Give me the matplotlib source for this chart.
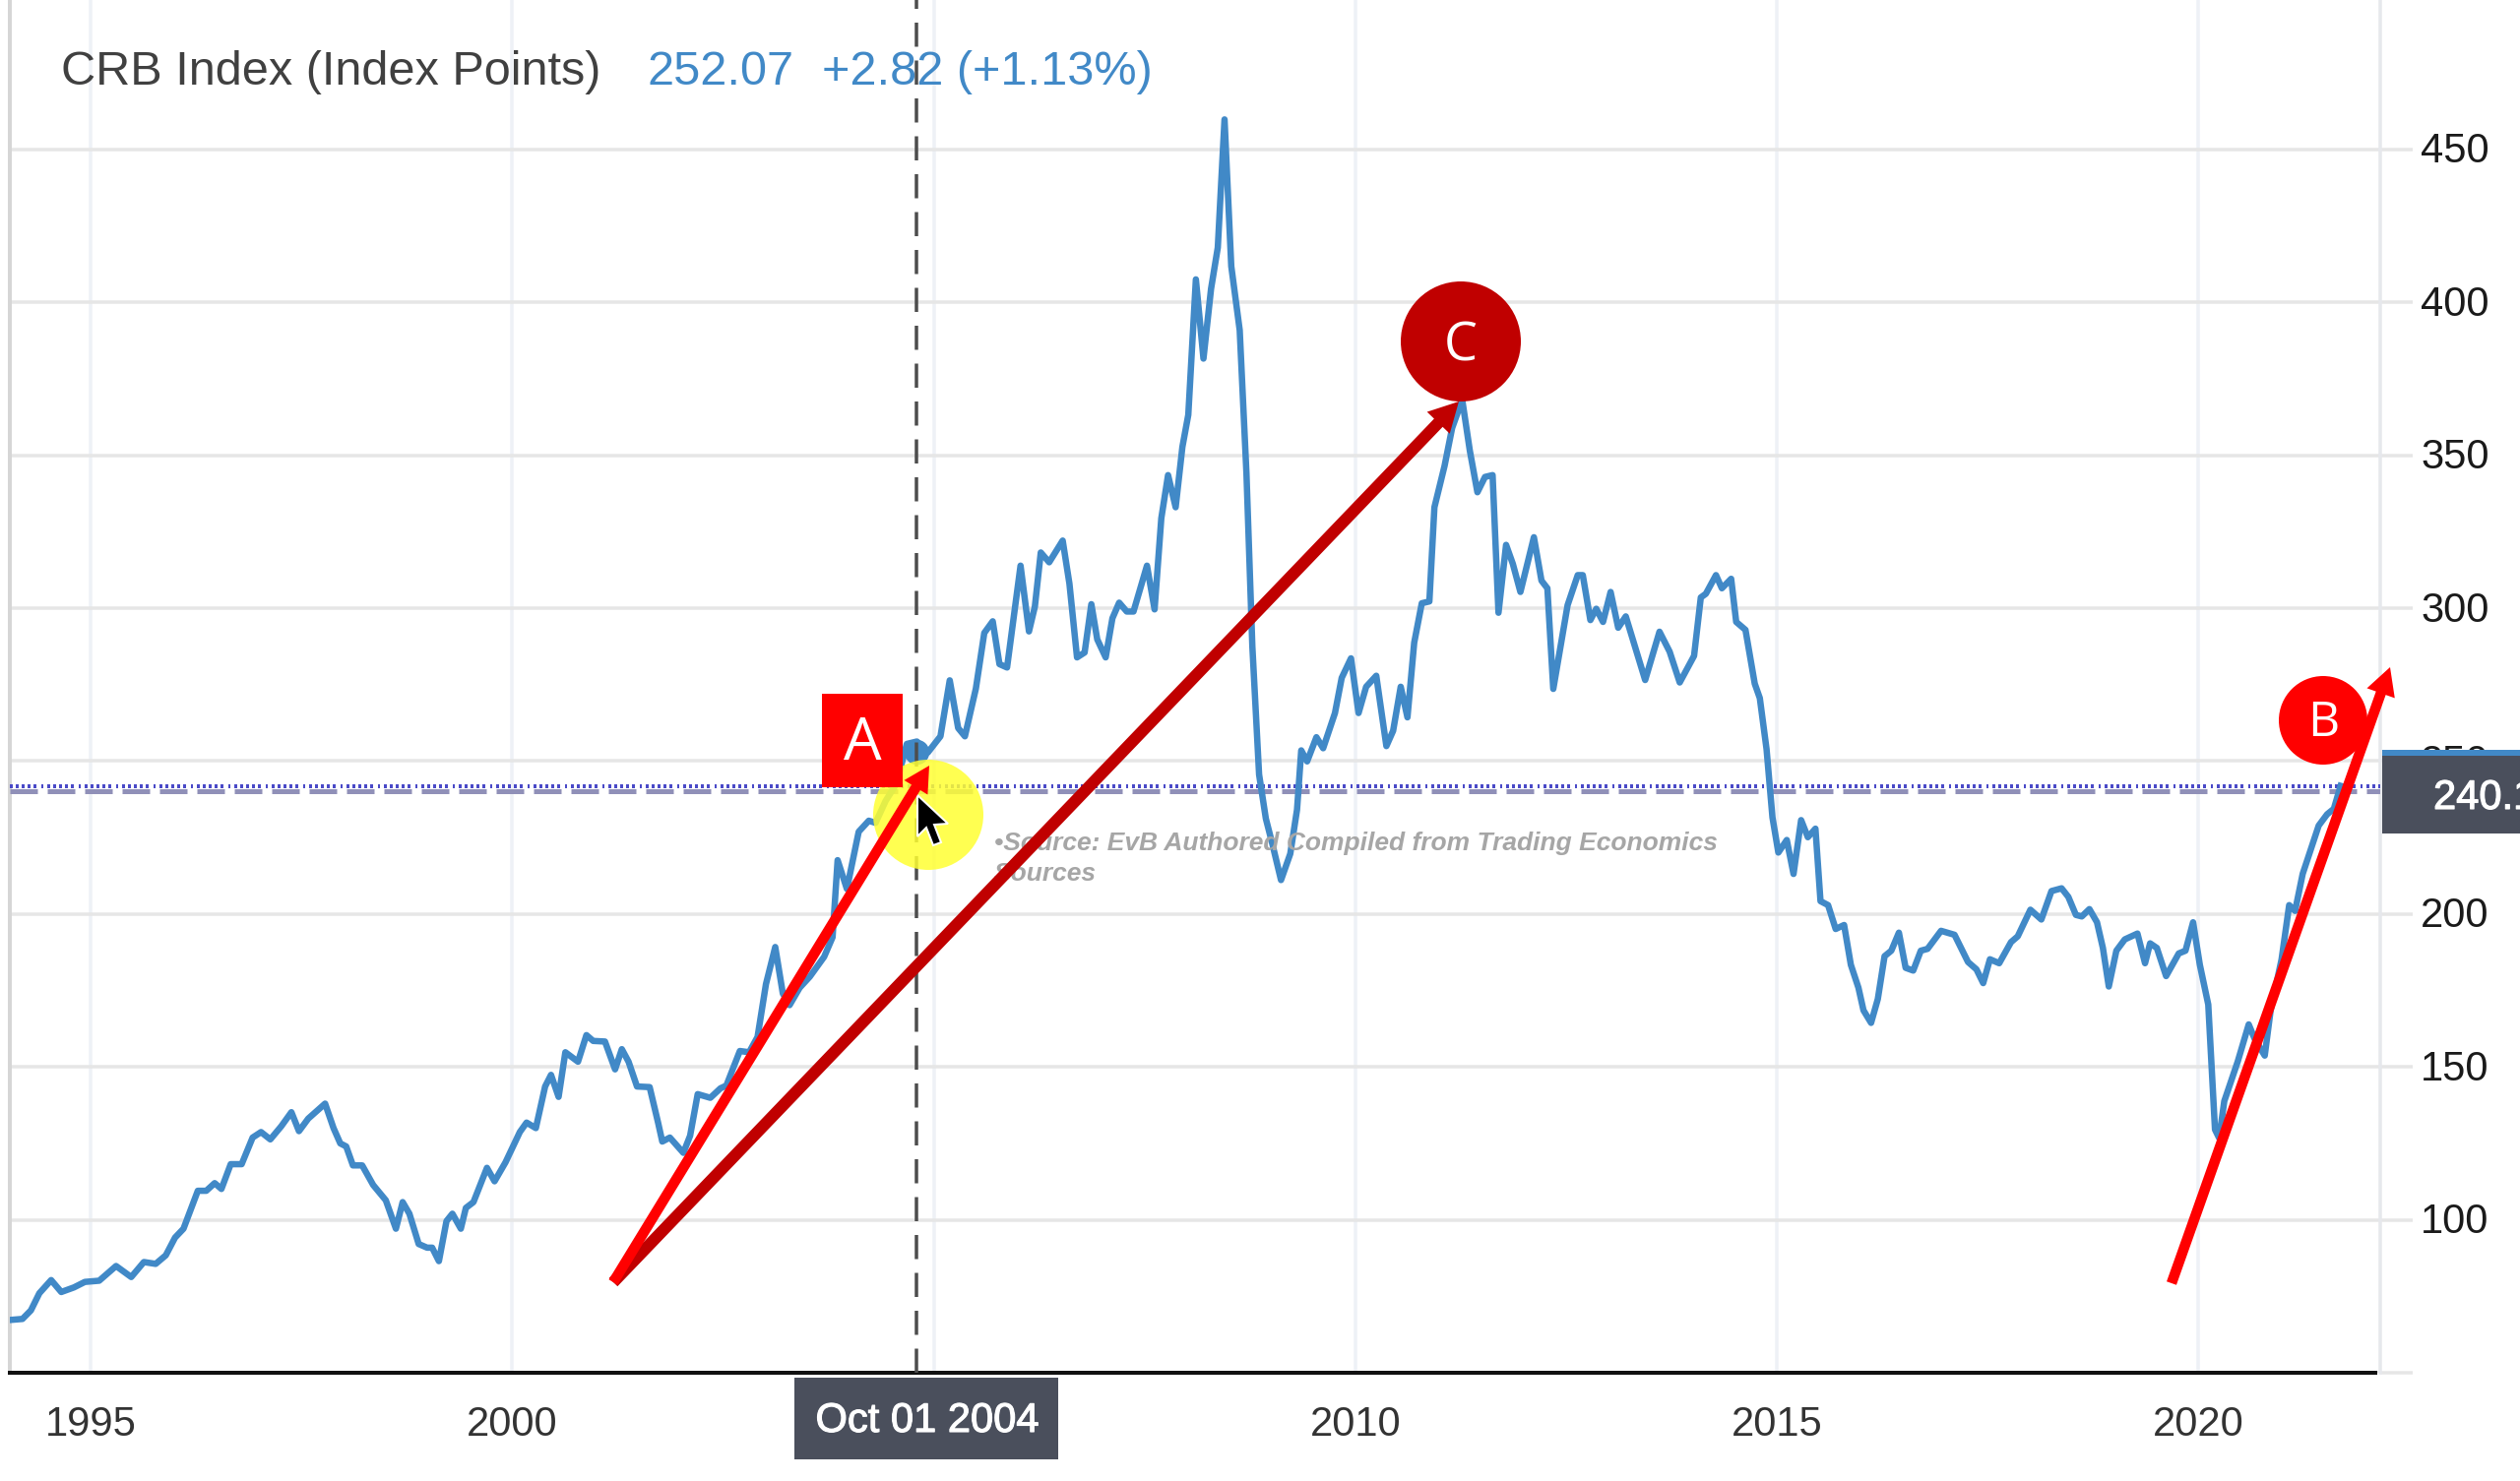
import matplotlib
matplotlib.use('Agg')
import matplotlib.pyplot as plt
import matplotlib.patheffects as pe
from matplotlib.patches import Circle, Rectangle, Polygon
from matplotlib.transforms import ScaledTranslation

# values (decimal year, index points)
years = [1994.06,1994.19,1994.29,1994.39,1994.53,1994.65,1994.80,1994.93,1995.10,1995.30,1995.48,1995.63,1995.77,1995.89,
1996.00,1996.10,1996.27,1996.37,1996.47,1996.55,1996.66,1996.79,1996.92,1997.02,1997.13,1997.26,1997.38,1997.47,1997.58,1997.78,1997.88,1997.96,
1998.03,1998.11,1998.22,1998.35,1998.50,1998.62,1998.70,1998.78,1998.89,1998.99,1999.05,1999.13,1999.22,1999.29,1999.39,1999.45,1999.54,1999.70,1999.79,1999.92,
2000.09,2000.17,2000.28,2000.39,2000.46,2000.55,2000.63,2000.78,2000.88,2000.96,2001.10,2001.22,2001.30,2001.38,2001.48,2001.63,2001.73,2001.78,2001.87,
2002.03,2002.11,2002.20,2002.35,2002.47,2002.54,2002.70,2002.81,2002.91,2003.01,2003.12,2003.21,2003.29,2003.41,2003.53,2003.70,2003.80,2003.86,2003.97,
2004.11,2004.23,2004.31,2004.43,2004.56,2004.68,2004.80,2004.93,2005.08,2005.19,2005.29,2005.37,2005.50,2005.60,2005.70,2005.78,2005.87,2005.95,
2006.03,2006.13,2006.20,2006.27,2006.37,2006.53,2006.61,2006.70,2006.79,2006.87,2006.94,2007.04,2007.12,2007.20,2007.29,2007.37,2007.53,2007.62,2007.70,2007.78,2007.87,2007.95,
2008.02,2008.11,2008.20,2008.29,2008.37,2008.45,2008.53,2008.63,2008.71,2008.78,2008.86,2008.94,2009.02,2009.12,2009.23,2009.31,2009.36,2009.43,2009.54,2009.62,2009.76,2009.84,2009.95,
2010.04,2010.13,2010.25,2010.37,2010.45,2010.54,2010.62,2010.70,2010.79,2010.88,2010.94,2011.06,2011.15,2011.27,2011.36,2011.45,2011.54,2011.63,2011.70,2011.79,2011.87,2011.96,
2012.12,2012.21,2012.28,2012.35,2012.52,2012.64,2012.70,2012.79,2012.86,2012.94,2013.03,2013.12,2013.21,2013.33,2013.44,2013.61,2013.73,2013.85,
2014.02,2014.10,2014.16,2014.28,2014.35,2014.46,2014.52,2014.63,2014.74,2014.80,2014.88,2014.95,2015.02,2015.12,2015.20,2015.29,2015.37,2015.46,2015.52,2015.61,2015.70,2015.80,2015.88,2015.97,
2016.03,2016.12,2016.20,2016.28,2016.36,2016.45,2016.53,2016.62,2016.71,2016.79,2016.95,2017.11,2017.27,2017.37,2017.45,2017.53,2017.64,2017.78,2017.86,
2018.01,2018.14,2018.26,2018.38,2018.46,2018.55,2018.62,2018.71,2018.80,2018.87,2018.94,2019.03,2019.13,2019.28,2019.37,2019.43,2019.51,2019.62,2019.77,2019.85,2019.94,
2020.02,2020.12,2020.20,2020.25,2020.31,2020.47,2020.60,2020.67,2020.79,2020.86,2020.99,2021.08,2021.15,2021.24,2021.34,2021.43,2021.53,2021.61,2021.69]
crb = [67.3,67.6,70.4,76,80.3,76.4,77.9,79.7,80.1,84.9,81.3,86.2,85.6,88.4,
94.2,97.1,109.5,109.5,112,110.1,118.2,118.2,126.9,128.7,126.3,130.6,135.2,129,133.1,138,130,125,
124,117.8,117.8,111.4,106.4,97.1,105.8,102,92.1,90.9,90.9,86.5,99.6,102,97.1,103.9,105.8,117,112.6,118.8,
128.7,131.8,130,143.6,147.4,140.2,154.8,151.7,160.4,158.5,158.3,149.2,155.8,151.7,143.6,143.4,131.8,125.6,126.9,
121.9,127.5,141.1,139.9,143,143.9,155.2,154.8,159.8,177.1,189.2,174,170.2,175.9,179.5,186,192.4,217.6,208.2,
226.9,230.5,229.8,237,242.7,255.6,256.4,252.8,258.1,276.4,260.8,258.1,273.7,291.9,295.7,281.7,280.6,297.3,
313.9,292.4,300.5,318.2,315,322.1,308,283.9,285.5,301.3,289.8,283.9,296.7,301.8,298.9,298.9,313.9,299.6,329.4,343.5,333,352.7,
363.2,407.5,381.6,404.4,417.9,459.8,411.8,390.9,344.1,287.5,245.6,231.2,222.6,211.1,219.7,234.1,253.5,249.9,257.8,254.2,265.7,277.2,283.6,
265.7,274.3,277.9,254.9,259.9,274.3,264.3,288.7,301.6,302.2,333,346.5,358.9,368.1,351.5,337.9,342.9,343.5,298.5,320.7,314.5,305.3,
323.2,309,306.5,273.6,301,310.8,310.8,296.1,299.8,295.5,305.3,293.6,297.3,286.5,276.5,292.3,285.8,275.7,
284.4,303.5,304.7,310.8,306.5,309.6,295.5,292.9,275.3,270.6,253.9,231.6,220.1,224.2,213.1,230.7,225.1,227.9,204.2,202.9,195.1,196.4,183.4,175.9,
168.5,164.4,172.2,186.2,188,193.9,182.4,181.5,188,188.6,194.5,193.2,184.3,181.9,177.4,185.2,183.9,190.8,192.7,
201.4,198.2,207.5,208.4,205.6,199.7,199.2,201.6,197.3,188.9,176.3,188,191.7,193.6,183.9,190.4,188.9,179.7,187.1,188,197.3,
183.4,170.4,129.5,126.7,138.8,151.8,163.9,159.2,153.7,168.5,185.2,202.9,201,213.1,221.4,228.9,232.6,234.4,241.9]

x_ticks = [1995, 2000, 2005, 2010, 2015, 2020]
x_labels = ['1995', '2000', '', '2010', '2015', '2020']  # 2005 sits under the date tag
y_ticks = [50, 100, 150, 200, 250, 300, 350, 400, 450]
y_labels = ['', '100', '150', '200', '250', '300', '350', '400', '450']
hover_year = 2004.8
hover_value = 253
level = 240.8

W, H = 2560, 1505
px = 72 / 100  # one image pixel in points
BLUE = '#4189c7'
SLATE = '#4a4f5c'

plt.rcParams['font.family'] = ['Liberation Sans', 'DejaVu Sans']
fig = plt.figure(figsize=(W / 100, H / 100), dpi=100, facecolor='white')

ax = fig.add_axes([10 / W, (H - 1395) / H, (2418 - 10) / W, 1395 / H])
ax.set_xlim(1994.04, 2022.16)
ax.set_ylim(50, 498.85)
ax.plot(years, crb, color=BLUE, lw=6.5 * px, solid_joinstyle='round', zorder=3)
ax.plot([hover_year], [hover_value], 'o', ms=24 * px, color=BLUE, zorder=3)

# level line: grey band with a row of dots on top, hover line
ax.axhline(level - 0.6, color='#9090b8', lw=5 * px, ls=(0, (28 / 5, 10 / 5)), zorder=2.6)
group = [3, 3, 3, 3, 3, 3, 3, 3, 3, 5, 2, 4]
ax.axhline(level + 0.9, color='#4a4ac8', lw=4 * px, ls=(0, [g / 4 for g in group]), zorder=2.7)
ax.axvline(hover_year, color='#4d4d4d', lw=3.5 * px, ls=(0, (7, 4)), zorder=4)

ax.yaxis.tick_right()
ax.set_xticks(x_ticks)
ax.set_xticklabels(x_labels)
ax.set_yticks(y_ticks)
ax.set_yticklabels(y_labels)
ax.xaxis.grid(True, color='#eef1f6', lw=3.5 * px)
ax.yaxis.grid(True, color='#e6e6e6', lw=3.5 * px)
ax.set_axisbelow(True)
ax.tick_params(axis='x', length=0, pad=33 * px, labelsize=30, labelcolor='#333333')
ax.tick_params(axis='y', length=33 * px, width=3.5 * px, color='#e6e6e6', pad=8 * px, labelsize=30, labelcolor='#1a1a1a')
for tick in ax.yaxis.get_major_ticks():
    tick.label2.set_transform(tick.label2.get_transform() + ScaledTranslation(0, 2 / 100, fig.dpi_scale_trans))
ax.spines['top'].set_visible(False)
ax.spines['left'].set(color='#d6d6d6', lw=4 * px)
ax.spines['right'].set(color='#e6e8ec', lw=3.5 * px)
ax.spines['bottom'].set(color='#111111', lw=4 * px)
ax.spines['bottom'].set_bounds(1994.04, 2022.10)

# overlay in image pixels for the annotations pasted on the screenshot
ov = fig.add_axes([0, 0, 1, 1], facecolor='none')
ov.set_xlim(0, W)
ov.set_ylim(H, 0)
ov.axis('off')

ov.text(62, 73, 'CRB Index (Index Points)', fontsize=35, color='#404040', va='center')
ov.text(658, 73, '252.07', fontsize=35, color=BLUE, va='center')
ov.text(835, 73, '+2.82 (+1.13%)', fontsize=35, color=BLUE, va='center')

ov.add_patch(Circle((943, 828), 56, color='#ffff33', alpha=0.85, lw=0, zorder=2))
ov.add_patch(Polygon([(932, 808), (932, 850), (941, 841), (948, 859), (956, 856), (949, 838), (963, 837)],
                     closed=True, fc='black', ec='white', lw=2 * px, zorder=3))

ov.text(1010, 857, '•Source: EvB Authored Compiled from Trading Economics', fontsize=19,
        color='#a6a6a6', style='italic', weight='bold', va='center', zorder=2)
ov.text(1010, 888, 'Sources', fontsize=19, color='#a6a6a6', style='italic', weight='bold', va='center', zorder=2)

def arrow(tail, tip, color, shaft, head_l, head_w):
    style = 'simple,head_length=%g,head_width=%g,tail_width=%g' % (head_l, head_w, shaft)
    ov.annotate('', xy=tip, xytext=tail, zorder=5,
                arrowprops=dict(arrowstyle=style, fc=color, ec='none', lw=0, shrinkA=0, shrinkB=0, mutation_scale=px))

arrow((623, 1303), (1482, 408), '#c00000', 12, 30, 32)
arrow((623, 1303), (944, 778), '#ff0000', 10.5, 26, 28)
arrow((2206, 1304), (2428, 678), '#ff0000', 10.5, 28, 30)

ov.add_patch(Rectangle((835, 705), 82, 95, color='#ff0000', lw=0, zorder=6))
ov.text(876, 756, 'A', fontsize=44, color='white', family='Open Sans', ha='center', va='center', zorder=7)
ov.add_patch(Circle((1484, 347), 61, color='#c00000', lw=0, zorder=6))
ov.text(1484, 352, 'C', fontsize=39, color='white', family='Open Sans', ha='center', va='center', zorder=7)
ov.add_patch(Circle((2360, 732), 45, color='#ff0000', lw=0, zorder=6))
ov.text(2360, 735, 'B', fontsize=36, color='white', family='Open Sans', ha='center', va='center', zorder=7)

# price tag and date tag
bold = [pe.withStroke(linewidth=0.8, foreground='white')]
ov.add_patch(Rectangle((2420, 762), 140, 7, color=BLUE, lw=0, zorder=6))
ov.add_patch(Rectangle((2420, 768), 140, 79, color=SLATE, lw=0, zorder=6))
ov.text(2472, 811, '240.1', fontsize=30, color='white', va='center', zorder=7, clip_on=True, path_effects=bold)
ov.add_patch(Rectangle((807, 1400), 268, 83, color=SLATE, lw=0, zorder=6))
ov.text(942, 1444, 'Oct 01 2004', fontsize=30, color='white', ha='center', va='center', zorder=7, path_effects=bold)

fig.savefig('out.png', dpi=100)
